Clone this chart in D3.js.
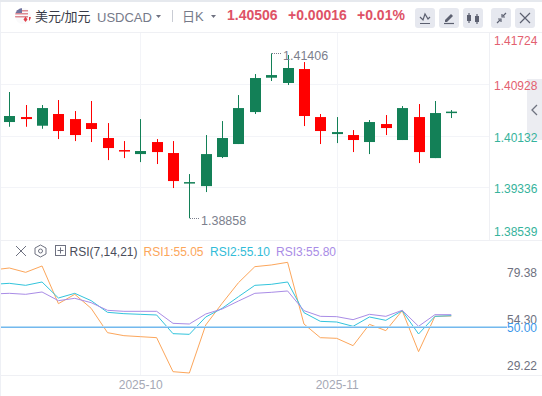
<!DOCTYPE html>
<html>
<head>
<meta charset="utf-8">
<script src="https://cdn.jsdelivr.net/npm/d3@7"></script>
<style>
html, body { margin: 0; padding: 0; background: #fff; overflow: hidden; }
text { font-family: "Liberation Sans", "Noto Sans CJK SC", sans-serif; }
</style>
</head>
<body>
<svg id="chart" width="542" height="396"></svg>
<script>
// Daily candles
const opens  = [1.40345, 1.40422, 1.40288, 1.40469, 1.40391, 1.40329, 1.40098, 1.39912, 1.39850, 1.40036, 1.39866, 1.39402, 1.39355, 1.39804, 1.40005, 1.40499, 1.41030, 1.40948, 1.41164, 1.40422, 1.40159, 1.40144, 1.40036, 1.40314, 1.40067, 1.40422, 1.39788, 1.40484];
const closes = [1.40438, 1.40391, 1.40561, 1.40206, 1.40144, 1.40237, 1.39943, 1.39901, 1.39897, 1.39881, 1.39433, 1.39417, 1.39850, 1.40098, 1.40561, 1.41025, 1.41071, 1.41180, 1.40438, 1.40206, 1.40190, 1.40067, 1.40345, 1.40252, 1.40561, 1.39881, 1.40484, 1.40506];
const highs  = [1.40809, 1.40608, 1.40608, 1.40685, 1.40515, 1.40670, 1.40329, 1.40051, 1.40391, 1.40082, 1.40051, 1.39541, 1.40144, 1.40360, 1.40762, 1.41087, 1.41406, 1.41381, 1.41272, 1.40469, 1.40422, 1.40221, 1.40376, 1.40453, 1.40592, 1.40623, 1.40670, 1.40530];
const lows   = [1.40272, 1.40272, 1.40241, 1.40082, 1.40051, 1.40036, 1.39757, 1.39788, 1.39726, 1.39696, 1.39325, 1.38858, 1.39263, 1.39788, 1.40005, 1.40469, 1.40979, 1.40917, 1.40283, 1.40005, 1.40020, 1.39881, 1.39850, 1.40144, 1.40067, 1.39711, 1.39788, 1.40407];

// RSI starts one bar before the first visible candle
const rsiBars = d3.range(-1, 28);
const rsi1 = [81.00, 82.08, 79.74, 83.16, 62.84, 67.88, 60.32, 47.20, 45.58, 45.04, 44.50, 26.16, 25.44, 51.34, 63.02, 74.17, 82.80, 83.70, 85.14, 51.87, 44.50, 44.14, 40.19, 51.70, 48.28, 59.07, 36.95, 56.01, 56.19];
const rsi2 = [73.27, 73.81, 72.73, 74.53, 65.90, 68.42, 64.46, 58.17, 57.45, 57.09, 56.73, 46.66, 46.30, 55.65, 60.32, 66.62, 72.73, 73.27, 74.53, 57.99, 53.31, 52.95, 50.62, 55.65, 53.85, 59.07, 46.48, 56.01, 56.37];
const rsi3 = [68.06, 68.42, 67.88, 69.14, 64.46, 65.72, 63.38, 59.25, 58.71, 58.71, 58.71, 52.23, 51.87, 57.27, 59.97, 64.28, 68.42, 68.96, 69.68, 59.07, 56.01, 55.83, 54.21, 57.09, 56.01, 59.25, 50.62, 56.91, 56.91];

const priceTicks = [1.41724, 1.40928, 1.40132, 1.39336, 1.38539];
const rsiTicks = [79.38, 54.30, 29.22];
const rsiBase = 50;
const monthBars = [8, 20];
const monthLabels = ["2025-10", "2025-11"];
const lastClose = 1.40506;
const highBar = 16, highValue = 1.41406;
const lowBar = 11, lowValue = 1.38858;

const red = "#ff0000", green = "#138057";
const upText = "#e3606f", downText = "#36b39c";
const gridColor = "#f3f4f8";

const svg = d3.select("#chart");

// Scales
const x = d3.scaleLinear().domain([0, 27]).range([9.3, 451.3]);
const yPrice = d3.scaleLinear().domain([1.38539, 1.41724]).range([238.9, 32.8]);
const yRsi = d3.scaleLinear().domain([29.22, 79.38]).range([366, 273]);

// Window frame
svg.append("rect").attr("width", 542).attr("height", 2).attr("fill", "#e6e9ee");
svg.append("rect").attr("y", 2).attr("width", 1).attr("height", 394).attr("fill", "#eef0f5");

// Grid
svg.append("g").selectAll("line")
    .data(priceTicks.slice(1, 4))
    .enter().append("line")
    .attr("x1", 1).attr("x2", 489)
    .attr("y1", d => Math.round(yPrice(d)) + 0.5).attr("y2", d => Math.round(yPrice(d)) + 0.5)
    .attr("stroke", gridColor);
svg.append("g").selectAll("line")
    .data(monthBars)
    .enter().append("line")
    .attr("x1", d => Math.round(x(d)) + 0.5).attr("x2", d => Math.round(x(d)) + 0.5)
    .attr("y1", 33).attr("y2", 375)
    .attr("stroke", gridColor);

// Pane borders
[[1, 542, 32.5, 32.5], [1, 542, 240.5, 240.5], [1, 542, 375.5, 375.5], [489.5, 489.5, 33, 240]].forEach(b => {
    svg.append("line").attr("x1", b[0]).attr("x2", b[1]).attr("y1", b[2]).attr("y2", b[3]).attr("stroke", "#eff0f4");
});

// Candles
const candle = svg.append("g").selectAll("g")
    .data(opens.map((o, i) => ({ i, o, c: closes[i], h: highs[i], l: lows[i] })))
    .enter().append("g")
    .attr("fill", d => d.c >= d.o ? green : red);
candle.append("rect")
    .attr("x", d => Math.round(x(d.i)))
    .attr("width", 1)
    .attr("y", d => yPrice(d.h))
    .attr("height", d => yPrice(d.l) - yPrice(d.h));
candle.append("rect")
    .attr("x", d => Math.round(x(d.i)) - 5)
    .attr("width", 11)
    .attr("y", d => yPrice(Math.max(d.o, d.c)))
    .attr("height", d => Math.max(1.5, Math.abs(yPrice(d.o) - yPrice(d.c))));

// High and low markers
function extreme(bar, value) {
    const px = Math.round(x(bar)) + 1, py = Math.round(yPrice(value)) + 0.5;
    svg.append("line").attr("x1", px).attr("x2", px + 10).attr("y1", py).attr("y2", py)
        .attr("stroke", "#7c7f8d").attr("stroke-dasharray", "1,1");
    svg.append("text").attr("x", px + 11).attr("y", py + 2).attr("dy", "0.32em")
        .attr("font-size", 12.5).attr("fill", "#7c7f8d").text(value.toFixed(5));
}
extreme(highBar, highValue);
extreme(lowBar, lowValue);

// Collapse tab, under the price labels
svg.append("rect").attr("x", 527).attr("y", 79).attr("width", 15).attr("height", 61).attr("fill", "#ecedf2");
svg.append("path").attr("d", "M537,105 L532,110 L537,115").attr("fill", "none").attr("stroke", "#6f7380").attr("stroke-width", 1.3);

// Price axis
const priceAxis = svg.append("g")
    .attr("transform", "translate(494,0)")
    .call(d3.axisRight(yPrice).tickValues(priceTicks).tickSize(0).tickPadding(0).tickFormat(d3.format(".5f")));
priceAxis.select(".domain").remove();
priceAxis.selectAll("text")
    .attr("font-size", 12)
    .attr("font-family", "Liberation Sans")
    .attr("fill", d => d > lastClose ? upText : downText)
    .attr("dy", (d, i) => i === 0 ? 12 : i === 4 ? -3.5 : 5.5);

// RSI lines
const rsiLine = vals => d3.line().x((d, i) => x(rsiBars[i])).y(d => yRsi(d))(vals);
svg.append("clipPath").attr("id", "rsi-clip").append("rect").attr("x", 1).attr("y", 241).attr("width", 488).attr("height", 134);
const rsiG = svg.append("g").attr("clip-path", "url(#rsi-clip)");
rsiG.append("path").attr("d", rsiLine(rsi1)).attr("fill", "none").attr("stroke", "#fca65b");
rsiG.append("path").attr("d", rsiLine(rsi2)).attr("fill", "none").attr("stroke", "#32c4dc");
rsiG.append("path").attr("d", rsiLine(rsi3)).attr("fill", "none").attr("stroke", "#a98ce6");

// RSI base line, pale on top and stronger under
svg.append("rect").attr("x", 1).attr("width", 506).attr("y", Math.floor(yRsi(rsiBase)) - 1).attr("height", 1).attr("fill", "#b5dcf5");
svg.append("rect").attr("x", 1).attr("width", 506).attr("y", Math.floor(yRsi(rsiBase))).attr("height", 1).attr("fill", "#74b8ee");

// RSI axis
const rsiAxis = svg.append("g")
    .attr("transform", "translate(507,0)")
    .call(d3.axisRight(yRsi).tickValues(rsiTicks).tickSize(0).tickPadding(0).tickFormat(d3.format(".2f")));
rsiAxis.select(".domain").remove();
rsiAxis.selectAll("text").attr("font-size", 12).attr("font-family", "Liberation Sans").attr("fill", "#6e7180");
svg.append("text").attr("x", 507).attr("y", yRsi(rsiBase)).attr("dy", "0.4em")
    .attr("font-size", 12).attr("fill", "#3a97ea").text(rsiBase.toFixed(2));

// Month axis
const timeAxis = svg.append("g")
    .attr("transform", "translate(0,377)")
    .call(d3.axisBottom(x).tickValues(monthBars).tickSize(0).tickPadding(3).tickFormat((d, i) => monthLabels[i]));
timeAxis.select(".domain").remove();
timeAxis.selectAll("text").attr("font-size", 12).attr("font-family", "Liberation Sans").attr("fill", "#a5a8b5");

// RSI legend
function label(px, py, txt, size, color, weight) {
    svg.append("text").attr("x", px).attr("y", py).attr("font-size", size)
        .attr("fill", color).attr("font-weight", weight || "normal").text(txt);
}
label(69.5, 256, "RSI(7,14,21)", 12, "#4a4d5a");
label(143.5, 256, "RSI1:55.05", 12, "#fca65b");
label(210, 256, "RSI2:55.10", 12, "#32bcd8");
label(276, 256, "RSI3:55.80", 12, "#a98ce6");
const iconStroke = "#6e7180";
svg.append("path").attr("d", "M16,246 L26,256 M26,246 L16,256").attr("stroke", iconStroke).attr("fill", "none");
svg.append("path").attr("d", "M40.5,245 L46,248 L46,254 L40.5,257 L35,254 L35,248 Z").attr("stroke", iconStroke).attr("fill", "none");
svg.append("circle").attr("cx", 40.5).attr("cy", 251).attr("r", 2).attr("stroke", iconStroke).attr("fill", "none");
svg.append("rect").attr("x", 55.5).attr("y", 245.5).attr("width", 10).attr("height", 10).attr("stroke", iconStroke).attr("fill", "none");
svg.append("path").attr("d", "M60.5,247.5 L60.5,253.5 M57.5,250.5 L63.5,250.5").attr("stroke", iconStroke).attr("fill", "none");

// Header
svg.append("clipPath").attr("id", "flag-clip").append("circle").attr("cx", 23).attr("cy", 16).attr("r", 8);
const flag = svg.append("g").attr("clip-path", "url(#flag-clip)");
flag.append("rect").attr("x", 15).attr("y", 8).attr("width", 16).attr("height", 16).attr("fill", "#fafafb");
[10, 13, 16].forEach(py => flag.append("rect").attr("x", 15).attr("y", py).attr("width", 13).attr("height", 1.5).attr("fill", "#dd8a93"));
flag.append("rect").attr("x", 15).attr("y", 8).attr("width", 7).attr("height", 5).attr("fill", "#70739e");
flag.append("rect").attr("x", 29).attr("y", 17).attr("width", 2).attr("height", 7).attr("fill", "#e0404a");
flag.append("path").attr("d", "M25.5,16.5 L27.5,19.5 L25.5,22 L23.5,19.5 Z").attr("fill", "#e0404a");

label(35, 21, "美元/加元", 13, "#383b47");
label(97, 22, "USDCAD", 13, "#767a89");
svg.append("path").attr("d", "M156,15 L161,15 L158.5,18 Z").attr("fill", "#6e7180");
svg.append("line").attr("x1", 172.5).attr("x2", 172.5).attr("y1", 10).attr("y2", 22).attr("stroke", "#c9ccd4");
label(182, 21, "日K", 13, "#767a89");
svg.append("path").attr("d", "M211,15 L216,15 L213.5,18 Z").attr("fill", "#6e7180");
label(227, 20, "1.40506", 14, "#de5266", "bold");
label(288, 20, "+0.00016", 14, "#de5266", "bold");
label(357, 20, "+0.01%", 14, "#de5266", "bold");

// Tool buttons
[415, 439, 463, 491, 515].forEach(bx => {
    svg.append("rect").attr("x", bx).attr("y", 8).attr("width", 20).attr("height", 20).attr("rx", 3).attr("fill", "#e6e8ef");
});
const btn = d => svg.append("path").attr("d", d).attr("fill", "none").attr("stroke", "#5c6070").attr("stroke-width", 1.2);
btn("M420,17 L423,20 L425,14 L428,19 L430,17 M420,23.5 L430,23.5");
svg.append("path").attr("d", "M445,20 L451,14 L453,16 L447,22 L445,22 Z").attr("fill", "#5c6070");
btn("M444,23.5 L454,23.5");
btn("M469,13 L469,23 M477,14 L477,24");
svg.append("rect").attr("x", 467).attr("y", 15).attr("width", 4).attr("height", 6).attr("fill", "#5c6070");
svg.append("rect").attr("x", 475).attr("y", 16).attr("width", 4).attr("height", 6).attr("fill", "#5c6070");
btn("M497,23 L500,20 M498,19 L501,19 L501,22 M506,13 L503,16 M502,14 L502,17 L505,17");
btn("M520,13 L530,23 M530,13 L520,23");
</script>
</body>
</html>
